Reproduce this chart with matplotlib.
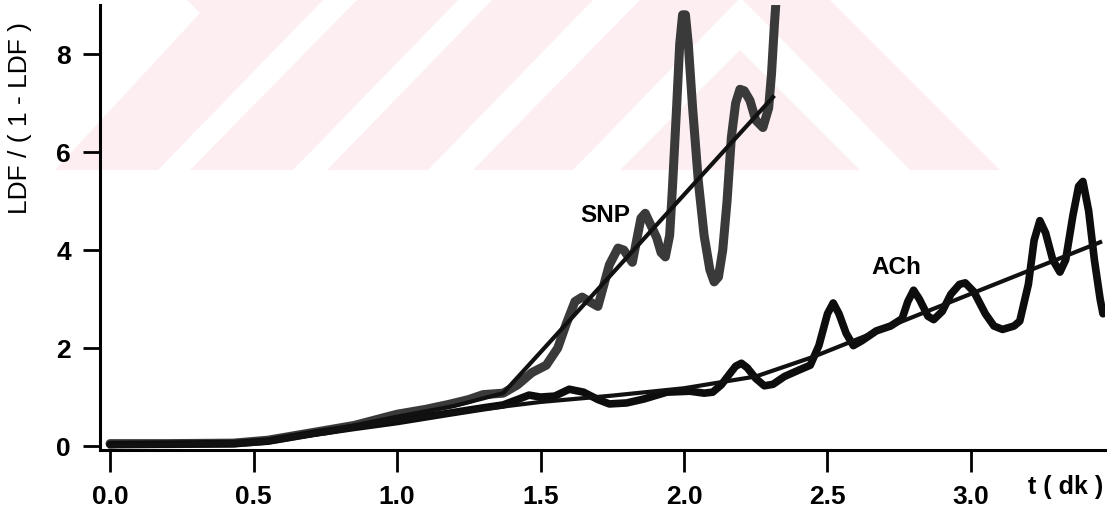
import matplotlib
matplotlib.use('agg')
import matplotlib.pyplot as plt
from matplotlib.patches import Polygon

# SNP measured curve
snp_t = [0.0, 0.2, 0.43, 0.55, 0.72, 0.85, 1.0, 1.1, 1.18, 1.25, 1.30, 1.37, 1.42,
         1.47, 1.52, 1.56, 1.59, 1.62, 1.645, 1.67, 1.70, 1.74, 1.77, 1.79, 1.82,
         1.835, 1.85, 1.865, 1.885, 1.905, 1.92, 1.935, 1.95, 1.96, 1.975, 1.985,
         1.995, 2.005, 2.015, 2.03, 2.05, 2.07, 2.09, 2.105, 2.12, 2.135, 2.15,
         2.165, 2.18, 2.195, 2.21, 2.23, 2.25, 2.275, 2.295, 2.305, 2.315, 2.322]
snp_v = [0.05, 0.05, 0.06, 0.12, 0.29, 0.42, 0.65, 0.75, 0.85, 0.95, 1.05, 1.08, 1.25,
         1.5, 1.65, 2.0, 2.5, 2.95, 3.04, 2.95, 2.85, 3.7, 4.04, 4.0, 3.75,
         4.2, 4.65, 4.75, 4.5, 4.25, 3.95, 3.86, 4.3, 5.3, 7.0, 8.2,
         8.8, 8.8, 8.2, 6.9, 5.4, 4.3, 3.6, 3.35, 3.45, 4.0, 5.0,
         6.3, 7.0, 7.28, 7.25, 7.05, 6.65, 6.5, 6.9, 7.6, 8.6, 9.2]

# SNP fitted line
snp_fit_t = [0.0, 0.5, 0.75, 1.0, 1.2, 1.37, 2.31]
snp_fit_v = [0.0, 0.08, 0.3, 0.6, 0.82, 1.08, 7.12]

# ACh measured curve
ach_t = [0.0, 0.43, 0.55, 0.72, 0.85, 1.0, 1.18, 1.30, 1.37, 1.42, 1.46, 1.50, 1.55,
         1.60, 1.65, 1.70, 1.74, 1.80, 1.86, 1.94, 2.02, 2.07, 2.10, 2.13, 2.16,
         2.18, 2.20, 2.22, 2.25, 2.28, 2.31, 2.35, 2.40, 2.44, 2.47, 2.50, 2.52,
         2.54, 2.565, 2.59, 2.62, 2.67, 2.72, 2.76, 2.78, 2.80, 2.82, 2.85, 2.87,
         2.90, 2.93, 2.96, 2.98, 3.01, 3.05, 3.08, 3.11, 3.15, 3.17, 3.20, 3.22,
         3.24, 3.26, 3.285, 3.31, 3.33, 3.355, 3.375, 3.39, 3.41, 3.43, 3.45, 3.46]
ach_v = [0.03, 0.05, 0.1, 0.27, 0.38, 0.5, 0.67, 0.78, 0.84, 0.95, 1.04, 1.0, 1.02,
         1.16, 1.1, 0.95, 0.86, 0.88, 0.96, 1.1, 1.12, 1.08, 1.1, 1.25, 1.48,
         1.63, 1.69, 1.6, 1.38, 1.23, 1.26, 1.42, 1.55, 1.65, 2.05, 2.7, 2.92,
         2.7, 2.3, 2.05, 2.15, 2.35, 2.45, 2.6, 2.95, 3.18, 3.0, 2.65, 2.58,
         2.75, 3.1, 3.3, 3.33, 3.15, 2.7, 2.45, 2.38, 2.45, 2.55, 3.3, 4.2,
         4.6, 4.35, 3.8, 3.55, 3.8, 4.7, 5.3, 5.4, 4.8, 3.8, 3.0, 2.7]

# ACh fitted line
ach_fit_t = [0.0, 0.5, 0.75, 1.0, 1.25, 1.5, 1.75, 2.0, 2.25, 2.45, 3.45]
ach_fit_v = [0.0, 0.06, 0.26, 0.52, 0.72, 0.9, 1.03, 1.18, 1.42, 1.82, 4.16]

xticks = [0.0, 0.5, 1.0, 1.5, 2.0, 2.5, 3.0]
xticklabels = ['0.0', '0.5', '1.0', '1.5', '2.0', '2.5', '3.0']
yticks = [0, 2, 4, 6, 8]

W, H = 1117, 516
fig = plt.figure(figsize=(W / 100, H / 100), dpi=100)
plt.rcParams['font.family'] = ['Liberation Sans', 'DejaVu Sans']

# faint pink watermark stripes behind the plot (pixel coords, y down)
wm = [
    [(187, 0), (323, 0), (158, 170), (55, 170), (200, 13)],
    [(357, 0), (458, 0), (293, 170), (190, 170)],
    [(492, 0), (593, 0), (428, 170), (327, 170)],
    [(640, 0), (738, 0), (573, 170), (473, 170)],
    [(743, 0), (830, 0), (1000, 170), (910, 170)],
    [(740, 50), (860, 170), (620, 170)],
]
for poly in wm:
    pts = [(x / W, 1 - y / H) for x, y in poly]
    fig.patches.append(Polygon(pts, closed=True, transform=fig.transFigure,
                               facecolor='#fdeef1', edgecolor='none', zorder=-5))

ax = fig.add_axes([100 / W, 66 / H, 1005 / W, 445 / H])
ax.patch.set_alpha(0)

ax.plot(snp_t, snp_v, color='#3a3a3a', lw=6.5, solid_joinstyle='round',
        solid_capstyle='round')
ax.plot(ach_t, ach_v, color='#0d0d0d', lw=5.5, solid_joinstyle='round',
        solid_capstyle='round')
ax.plot(snp_fit_t, snp_fit_v, color='#111111', lw=3)
ax.plot(ach_fit_t, ach_fit_v, color='#111111', lw=3)

ax.set_xlim(-0.035, 3.467)
ax.set_ylim(-0.08, 9.0)

for s in ['top', 'right']:
    ax.spines[s].set_visible(False)
for s in ['left', 'bottom']:
    ax.spines[s].set_linewidth(2.2)

ax.set_xticks(xticks)
ax.set_xticklabels(xticklabels)
ax.set_yticks(yticks)
ax.tick_params(axis='x', direction='out', length=16, width=2, pad=9, labelsize=19)
ax.tick_params(axis='y', direction='out', length=12, width=2, pad=9, labelsize=19)
for lab in ax.get_xticklabels() + ax.get_yticklabels():
    lab.set_fontweight('bold')

ax.text(1.725, 4.71, 'SNP', fontsize=17.5, fontweight='bold', ha='center', va='center')
ax.text(2.74, 3.65, 'ACh', fontsize=17.5, fontweight='bold', ha='center', va='center')
fig.text(1066 / W, 1 - 487 / H, 't ( dk )', fontsize=18, fontweight='bold',
         ha='center', va='center')
fig.text(20 / W, 1 - 118 / H, 'LDF / ( 1 - LDF )', fontsize=19,
         rotation=90, ha='center', va='center')

plt.savefig('out.png', dpi=100)
